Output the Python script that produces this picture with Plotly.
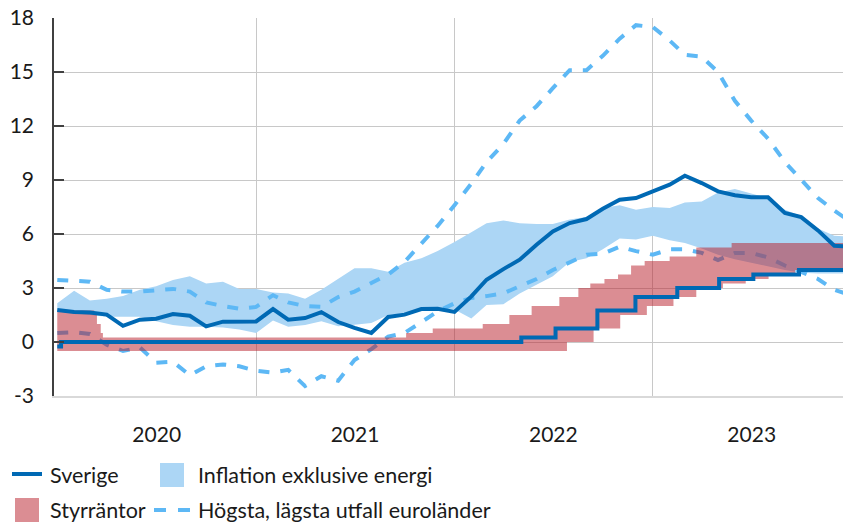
import pandas as pd
import plotly.graph_objects as go

# monthly observations, Jan 2020 - Jan 2024
months = pd.date_range("2020-01-01", "2024-01-01", freq="MS")

sverige_inflation = [
    1.78, 1.67, 1.64, 1.52, 0.90, 1.24, 1.29, 1.55, 1.46, 0.87, 1.13, 1.13,
    1.14, 1.83, 1.24, 1.33, 1.66, 1.11, 0.78, 0.50, 1.39, 1.52, 1.83, 1.85,
    1.67, 2.53, 3.46, 4.05, 4.57, 5.40, 6.14, 6.61, 6.83, 7.40, 7.90, 8.00,
    8.40, 8.74, 9.24, 8.83, 8.37, 8.15, 8.04, 8.04, 7.17, 6.94, 6.20, 5.35,
    5.30,
]
band_upper = [
    2.15, 2.85, 2.30, 2.40, 2.55, 2.90, 3.10, 3.45, 3.65, 3.25, 3.35, 2.95,
    2.95, 2.75, 2.70, 2.40, 2.90, 3.50, 4.10, 4.10, 3.90, 4.40, 4.65, 5.05,
    5.55, 6.10, 6.60, 6.75, 6.60, 6.55, 6.55, 6.80, 6.95, 7.45, 7.60, 7.35,
    7.50, 7.45, 7.75, 7.80, 8.30, 8.50, 8.25, 8.00, 7.35, 7.00, 6.30, 5.90,
    5.85,
]
band_lower = [
    1.70, 1.60, 1.50, 1.40, 1.40, 1.40, 1.15, 0.95, 0.85, 0.85, 0.80, 0.70,
    0.50, 1.20, 0.85, 0.95, 1.15, 0.87, 0.96, 1.05, 1.50, 1.60, 1.80, 1.85,
    1.80, 1.30, 2.05, 2.10, 2.70, 3.20, 3.65, 4.45, 4.65, 5.15, 5.75, 5.70,
    5.90, 5.65, 5.50, 5.20, 4.85, 4.60, 4.40, 4.20, 4.00, 3.85, 3.80, 3.80,
    3.80,
]
euro_high = [
    3.45, 3.40, 3.35, 2.90, 2.80, 2.80, 2.90, 2.95, 2.80, 2.20, 2.00, 1.85,
    1.95, 2.60, 2.20, 2.00, 1.95, 2.50, 2.80, 3.25, 3.75, 4.45, 5.50, 6.45,
    7.60, 8.80, 10.00, 11.00, 12.30, 13.10, 14.10, 15.10, 15.10, 15.90, 16.85, 17.60,
    17.50, 16.75, 15.95, 15.85, 15.00, 13.40, 12.30, 11.30, 10.00, 9.00, 8.00, 7.30,
    6.65,
]
euro_low = [
    0.50, 0.55, 0.45, -0.15, -0.50, -0.30, -1.15, -1.10, -1.85, -1.35, -1.25, -1.35,
    -1.60, -1.70, -1.55, -2.45, -1.90, -2.15, -1.00, -0.40, 0.30, 0.50, 1.10, 1.70,
    2.15, 2.45, 2.55, 2.70, 3.10, 3.50, 4.00, 4.45, 4.85, 4.90, 5.30, 5.05,
    4.85, 5.15, 5.15, 4.95, 4.55, 4.95, 4.95, 4.70, 4.25, 3.90, 3.50, 2.90,
    2.60,
]

# policy rates, step changes
rate_high_dates = [
    "2020-01-01", "2020-03-09", "2020-03-14", "2020-03-21", "2020-03-25",
    "2021-10-04", "2021-11-22", "2022-02-22", "2022-04-12", "2022-05-23",
    "2022-07-13", "2022-08-17", "2022-09-08", "2022-10-04", "2022-10-29",
    "2022-11-22", "2022-12-17", "2023-02-01", "2023-03-22", "2023-05-26",
    "2024-01-01",
]
rate_high = [
    1.75, 1.50, 1.00, 0.50, 0.25,
    0.50, 0.75, 1.00, 1.50, 2.00,
    2.50, 3.00, 3.25, 3.50, 3.75,
    4.25, 4.50, 4.75, 5.25, 5.50,
    5.50,
]
rate_low_dates = [
    "2020-01-01", "2022-07-27", "2022-09-14", "2022-11-02", "2022-12-21",
    "2023-02-08", "2023-03-22", "2023-05-10", "2023-06-21", "2023-08-02",
    "2023-09-20", "2024-01-01",
]
rate_low = [-0.50, 0.00, 0.75, 1.50, 2.00, 2.50, 3.00, 3.25, 3.50, 3.75, 4.00, 4.00]
riksbank_dates = [
    "2020-01-01", "2020-01-08", "2022-05-04", "2022-07-06", "2022-09-21",
    "2022-11-30", "2023-02-15", "2023-05-03", "2023-07-05", "2023-09-27",
    "2024-01-01",
]
riksbank = [-0.25, 0.00, 0.25, 0.75, 1.75, 2.50, 3.00, 3.50, 3.75, 4.00, 4.00]

year_ticks = ["2020-07-02", "2021-07-02", "2022-07-02", "2023-07-02"]
year_labels = ["2020", "2021", "2022", "2023"]
year_starts = ["2021-01-01", "2022-01-01", "2023-01-01"]
y_ticks = [-3, 0, 3, 6, 9, 12, 15, 18]

DARK = "#0069b4"
DASH = "#5db8f5"
LIGHT = "rgb(172,214,245)"
RED = "rgba(183,28,40,0.5)"
GRID = "#c8c8c8"

fig = go.Figure()
fig.add_trace(go.Scatter(x=months, y=band_lower, mode="lines", line_width=0,
                         showlegend=False, hoverinfo="skip"))
fig.add_trace(go.Scatter(x=months, y=band_upper, mode="lines", line_width=0,
                         fill="tonexty", fillcolor=LIGHT,
                         name="Inflation exklusive energi"))
fig.add_trace(go.Scatter(x=months, y=euro_high, mode="lines",
                         line=dict(color=DASH, width=4, dash="11px,11px"),
                         name="Högsta, lägsta utfall euroländer"))
fig.add_trace(go.Scatter(x=months, y=euro_low, mode="lines",
                         line=dict(color=DASH, width=4, dash="11px,11px"),
                         showlegend=False))
fig.add_trace(go.Scatter(x=rate_low_dates, y=rate_low, mode="lines",
                         line=dict(width=0, shape="hv"),
                         showlegend=False, hoverinfo="skip"))
fig.add_trace(go.Scatter(x=rate_high_dates, y=rate_high, mode="lines",
                         line=dict(width=0, shape="hv"),
                         fill="tonexty", fillcolor=RED, name="Styrräntor"))
fig.add_trace(go.Scatter(x=riksbank_dates, y=riksbank, mode="lines",
                         line=dict(color=DARK, width=4, shape="hv"),
                         showlegend=False))
fig.add_trace(go.Scatter(x=months, y=sverige_inflation, mode="lines",
                         line=dict(color=DARK, width=4), name="Sverige"))

# plot area in pixels, used to place the hand-made legend below the chart
L, R, T, B, W, H = 54, 0, 18, 126, 843, 522
PW, PH = W - L - R, H - T - B


def px(x):
    return (x - L) / PW


def py(y):
    return (H - B - y) / PH


shapes = [
    dict(type="line", x0=px(12), x1=px(42), y0=py(474), y1=py(474),
         line=dict(color=DARK, width=4)),
    dict(type="rect", x0=px(160), x1=px(184), y0=py(463), y1=py(487),
         fillcolor=LIGHT, line_width=0),
    dict(type="rect", x0=px(15), x1=px(39), y0=py(498), y1=py(522),
         fillcolor=RED, line_width=0),
    dict(type="line", x0=px(154), x1=px(190), y0=py(510), y1=py(510),
         line=dict(color=DASH, width=4, dash="12px,12px")),
]
for s in shapes:
    s.update(xref="paper", yref="paper")
    fig.add_shape(s)

legend_text = [
    ("Sverige", 48, 475),
    ("Inflation exklusive energi", 196, 475),
    ("Styrräntor", 48, 510),
    ("Högsta, lägsta utfall euroländer", 196, 510),
]
for text, x, y in legend_text:
    fig.add_annotation(text=text, x=px(x), y=py(y), xref="paper", yref="paper",
                       xanchor="left", yanchor="middle", showarrow=False,
                       font=dict(size=21.5, color="#1a1a1a"))

fig.update_layout(
    width=W,
    height=H,
    margin=dict(l=L, r=R, t=T, b=B),
    plot_bgcolor="white",
    paper_bgcolor="white",
    font=dict(family="Lato", size=21, color="#1a1a1a"),
    showlegend=False,
    xaxis=dict(
        type="date",
        range=["2019-12-26", "2023-12-17"],
        tickmode="array",
        tickvals=year_ticks,
        ticktext=year_labels,
        ticks="",
        showgrid=False,
        minor=dict(tickmode="array", tickvals=year_starts, showgrid=True,
                   gridcolor=GRID, gridwidth=1, ticks=""),
        showline=True,
        linecolor="#d9d9d9",
        linewidth=2,
        zeroline=False,
        ticklabelstandoff=19,
    ),
    yaxis=dict(
        range=[-3, 18],
        tickmode="array",
        tickvals=y_ticks,
        ticktext=[str(v) for v in y_ticks],
        showgrid=True,
        gridcolor=GRID,
        gridwidth=1,
        ticks="inside",
        ticklen=10,
        tickwidth=1.5,
        tickcolor="#404040",
        showline=True,
        linecolor="#404040",
        linewidth=1.5,
        zeroline=False,
        ticklabelstandoff=14,
    ),
)

# the page's default body margin would push the figure 8px off the window
fig.write_html(
    "out.html",
    config={"displayModeBar": False},
    post_script="document.body.style.margin = '0';",
)
